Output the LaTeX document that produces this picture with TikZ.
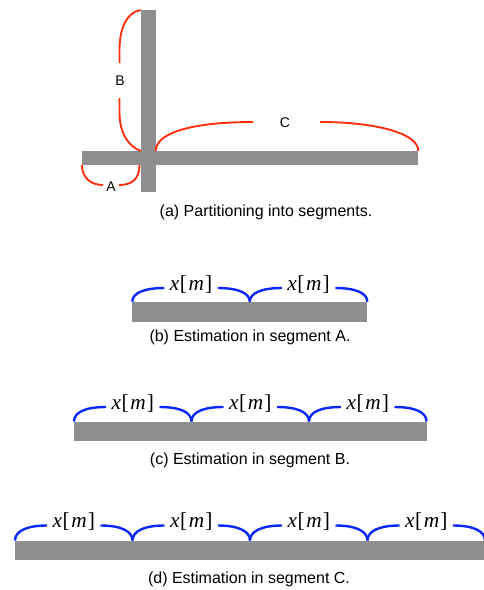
\documentclass[tikz,border=0pt]{standalone}
\usepackage[no-math]{fontspec}
\setmainfont{Liberation Sans}
\newfontfamily\serifxm{Liberation Serif}
\definecolor{barg}{RGB}{143,143,143}
\definecolor{redc}{RGB}{255,45,10}
\definecolor{bluec}{RGB}{10,40,250}
\tikzset{
  barfill/.style={fill=barg, draw=none},
  redline/.style={draw=redc, line width=1.4pt},
  blueline/.style={draw=bluec, line width=1.8pt},
  captxt/.style={font=\fontsize{12}{14}\selectfont, inner sep=0pt},
  seglab/.style={font=\fontsize{10.5}{12}\selectfont, inner sep=0pt},
  xlab/.style={font=\serifxm\fontsize{16}{18}\selectfont, anchor=base, inner sep=0pt}
}
\newcommand{\xm}{\textit{x}\kern0.03em[\kern0.08em\textit{m}\kern0.05em]}
\begin{document}
\begin{tikzpicture}[x=0.75pt,y=-0.75pt]
\useasboundingbox (0,0) rectangle (483,590);
% ---------- (a) ----------
\fill[barfill] (140.7,10) rectangle (155.5,192);
\fill[barfill] (81.7,151) rectangle (418.3,165);
% B
\draw[redline] (140.7,10) .. controls (127,12) and (119.5,28) .. (119.5,50) -- (119.5,63);
\draw[redline] (119.5,98) -- (119.5,112) .. controls (119.5,133) and (128,146) .. (140.7,151);
\node[seglab] (lB) at (120,81) {B};
% C
\draw[redline] (155.7,151) .. controls (155.7,132) and (195,122) .. (253,122);
\draw[redline] (320,122) .. controls (375,122) and (418.3,133) .. (418.3,151);
\node[seglab] (lC) at (285,123) {C};
% A
\draw[redline] (82,165) .. controls (82,178) and (91,185) .. (103,185);
\draw[redline] (119,185) .. controls (132,185) and (139.5,179) .. (139.5,165);
\node[seglab] (lA) at (111,187) {A};
\node[captxt] (capa) at (266,212) {(a) Partitioning into segments.};
% ---------- (b) ----------
\fill[barfill] (132.3,301.7) rectangle (367.3,321.5);
\foreach \i [evaluate=\i as \xa using 132.3+\i*117.5,
             evaluate=\i as \xb using 132.3+(\i+1)*117.5,
             evaluate=\i as \xc using 132.3+(\i+0.5)*117.5] in {0,1} {
  \draw[blueline] (\xa,301.7) .. controls (\xa,293) and (\xa+12,288) .. (\xa+32,288);
  \draw[blueline] (\xb,301.7) .. controls (\xb,293) and (\xb-12,288) .. (\xb-32,288);
  \node[xlab] (b\i) at (\xc,290) {\xm};
}
\node[captxt] (capb) at (250,337) {(b) Estimation in segment A.};
% ---------- (c) ----------
\fill[barfill] (74,421.5) rectangle (426.5,441);
\foreach \i [evaluate=\i as \xa using 74+\i*117.5,
             evaluate=\i as \xb using 74+(\i+1)*117.5,
             evaluate=\i as \xc using 74+(\i+0.5)*117.5] in {0,1,2} {
  \draw[blueline] (\xa,421.5) .. controls (\xa,412) and (\xa+12,407) .. (\xa+32,407);
  \draw[blueline] (\xb,421.5) .. controls (\xb,412) and (\xb-12,407) .. (\xb-32,407);
  \node[xlab] (c\i) at (\xc,409) {\xm};
}
\node[captxt] (capc) at (250,460) {(c) Estimation in segment B.};
% ---------- (d) ----------
\fill[barfill] (15,540.5) rectangle (485,560);
\foreach \i [evaluate=\i as \xa using 15+\i*117.5,
             evaluate=\i as \xb using 15+(\i+1)*117.5,
             evaluate=\i as \xc using 15+(\i+0.5)*117.5] in {0,1,2,3} {
  \draw[blueline] (\xa,540.5) .. controls (\xa,531) and (\xa+12,525.5) .. (\xa+32,525.5);
  \draw[blueline] (\xb,540.5) .. controls (\xb,531) and (\xb-12,525.5) .. (\xb-32,525.5);
  \node[xlab] (d\i) at (\xc,527.5) {\xm};
}
\node[captxt] (capd) at (249,579) {(d) Estimation in segment C.};
\end{tikzpicture}
\end{document}
